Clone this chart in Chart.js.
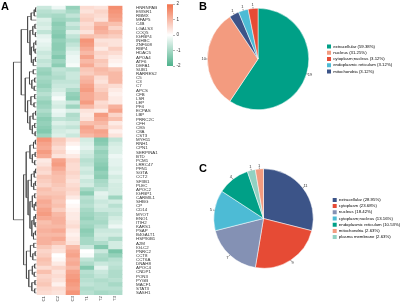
<!doctype html>
<html lang="en">
<head>
<meta charset="utf-8">
<title>Differential proteins: heatmap and subcellular localisation</title>
<script src="https://cdn.jsdelivr.net/npm/chart.js@4.4.1/dist/chart.umd.min.js"></script>
<style>
  html, body { margin: 0; padding: 0; background: #fff; overflow: hidden; }
  body { width: 400px; height: 302px; position: relative; }
  canvas { position: absolute; }
  .tag { position: absolute; font: bold 11px "Liberation Sans", Arial, sans-serif; color: #000; line-height: 11px; }
</style>
</head>
<body>
<canvas id="heat" width="166" height="302" style="left:0;top:0"></canvas>
<canvas id="key" width="24" height="72" style="left:164px;top:0"></canvas>
<canvas id="pieB" width="235" height="118" style="left:190px;top:0"></canvas>
<canvas id="pieC" width="235" height="118" style="left:190px;top:160px"></canvas>
<div class="tag" style="left:1px;top:1px">A</div>
<div class="tag" style="left:199px;top:1px">B</div>
<div class="tag" style="left:199px;top:163px">C</div>

<script>
// ---- heatmap data (row z-scores) ----
const ROWS = ["HNRNPAB","EWSR1","RBMX","MFAP5","C4B","LGALS3","COQ5","IGFBP4","INHBC","ZNF608",
  "RBP4","HDAC5","APOA4","ATF6","DEFA1","SUB1","RARRES2","C5","C3","C7",
  "APCS","CFB","LSR","LEP","PF4","ECPAS","LBP","PRRC2C","CFH","C8G",
  "C8A","CST3","MYH11","RNH1","CPN1","SERPINA1","BTD","PCM1","LRRC47","PFN1",
  "SGTA","CCT2","SF3B1","PLEC","APOC2","IGFBP1","CARMIL1","SHBG","CP","CD14",
  "MYOT","ENO1","ITIH2","KARS1","PSAP","B4GALT1","HSP90B1","A2M","IGLC2","PNRC2",
  "CCT8","CCT6A","DNAH8","APOC4","CNDP1","PON3","PYGB","MACF1","STAT3","SASH1"];
const COLS = ["C1","C2","C3","T1","T2","T3"];
const Z = [
  [-0.6,-0.2,-1.2, 0.5, 0.4, 1.6],
  [-0.8,-0.7,-1.0, 0.4, 0.6, 1.5],
  [-0.9,-1.0,-0.7, 0.6, 0.5, 1.4],
  [-0.4,-1.1,-1.0, 0.7, 0.4, 1.3],
  [-0.5,-1.3,-0.6, 0.5, 1.0, 0.9],
  [-0.4,-1.2,-0.8, 0.6, 1.2, 0.6],
  [-0.7,-1.3,-0.4, 0.4, 1.1, 0.9],
  [-0.3,-1.4,-0.7, 0.9, 0.8, 0.7],
  [-0.2,-1.2,-0.9, 1.5, 0.4, 0.4],
  [-0.3,-1.3,-0.7, 1.4, 0.5, 0.4],
  [-0.4,-1.3,-0.5, 1.2, 0.3, 0.7],
  [-0.6,-1.2,-0.3, 1.0, 0.6, 0.5],
  [-0.5,-1.4,-0.2, 1.3, 0.5, 0.3],
  [-0.7,-1.1,-0.2, 1.0, 0.8, 0.2],
  [-0.6,-1.3,-0.1, 1.2, 0.7, 0.1],
  [-1.1,-0.7,-0.8, 0.8, 1.0, 0.8],
  [-1.2,-0.8,-0.6, 0.7, 0.9, 1.0],
  [-1.0,-0.9,-0.6, 1.0, 0.5, 1.0],
  [-1.1,-0.7,-0.7, 1.1, 0.4, 1.0],
  [-1.2,-0.6,-0.6, 1.3, 0.6, 0.5],
  [-1.0,-0.5,-0.9, 1.4, 0.7, 0.3],
  [-0.8,-0.3,-1.2, 1.2, 0.9, 0.2],
  [-1.0,-0.1,-1.3, 1.2, 0.9, 0.3],
  [-1.2,-0.4,-0.6, 1.4, 0.5, 0.3],
  [-1.1,-0.5,-1.1, 1.0, 0.6, 1.1],
  [-0.9,-0.2,-0.4, 0.4, 0.3, 1.3],
  [-1.1,-0.3,-0.9, 0.3, 1.4, 0.6],
  [-1.3,-0.7,-0.8, 0.4, 1.2, 0.9],
  [-1.2,-0.4,-0.5, 0.9, 1.0, 0.3],
  [-1.3,-0.6,-0.7, 1.3, 0.8, 0.5],
  [-1.4,-0.5,-0.4, 1.2, 1.3, 0.2],
  [-1.1,-0.4,-0.6, 1.0, 1.2, 0.4],
  [ 1.5, 0.8, 0.4,-0.5,-1.4,-0.7],
  [ 1.3, 0.7, 0.2,-0.4,-1.3,-0.5],
  [ 1.2, 0.5, 0.0,-0.3,-1.0,-0.4],
  [ 1.4, 0.6, 0.1,-0.5,-1.2,-0.4],
  [ 1.2, 0.4, 0.3,-0.6,-1.1,-0.2],
  [ 0.3, 1.3, 0.6,-0.8,-1.2,-0.3],
  [ 0.4, 1.4, 0.5,-0.7,-1.3,-0.3],
  [ 0.6, 1.2, 0.5,-0.5,-1.4,-0.4],
  [ 0.5, 1.0, 0.6,-0.6,-1.2,-0.3],
  [ 0.8, 0.9, 0.5,-0.4,-1.3,-0.5],
  [ 0.7, 0.9, 0.4,-0.6,-1.0,-0.4],
  [ 0.6, 0.8, 0.5,-0.5,-0.9,-0.5],
  [ 0.9, 0.7, 0.6,-1.0,-0.7,-0.5],
  [ 0.8, 0.8, 0.5,-1.3,-0.3,-0.5],
  [ 1.0, 0.9, 0.3,-0.8,-0.4,-1.1],
  [ 1.2, 0.8, 0.0,-0.9,-0.6,-0.5],
  [ 1.1, 0.9, 0.1,-0.8,-0.5,-0.8],
  [ 1.3, 0.7, 0.2,-1.0,-0.6,-0.6],
  [ 1.4, 1.0, 0.3,-1.1,-0.9,-0.7],
  [ 1.2, 1.1, 0.3,-1.2,-0.9,-0.5],
  [ 0.9, 1.1, 0.4,-1.0,-1.0,-0.4],
  [ 1.0, 1.0, 0.5,-1.1,-0.8,-0.2],
  [ 1.1, 1.2, 0.3,-1.3,-0.6,-0.6],
  [ 1.0, 1.0, 0.2,-1.2,-0.5,-0.5],
  [ 1.1, 1.2, 0.3,-1.0,-0.6,-0.9],
  [ 1.1, 0.9, 0.4,-1.0,-0.9,-0.5],
  [ 0.8, 0.5, 1.0,-0.6,-1.4,-0.5],
  [ 0.6, 0.4, 1.2, 0.0,-0.6,-1.5],
  [ 0.7, 0.0, 1.3,-0.1,-0.9,-1.2],
  [ 0.9, 0.1, 1.1,-0.7,-1.0,-0.8],
  [ 0.8, 0.3, 1.2,-0.9,-0.6,-0.7],
  [ 0.5, 0.6, 1.0,-1.4,-0.3,-0.8],
  [ 0.9, 0.4, 1.3,-0.8,-0.6,-0.9],
  [ 0.6, 0.5, 1.4,-0.9,-0.7,-0.9],
  [ 0.7, 0.4, 1.5,-0.8,-0.9,-0.8],
  [ 0.8, 0.2, 1.4,-0.7,-0.8,-1.0],
  [ 0.6, 0.5, 1.3,-0.9,-0.8,-0.8],
  [ 0.5, 0.4, 1.5,-0.8,-1.0,-0.9]
];
// row dendrogram: [merge height (root = 1), left, right], leaves are row indices
const TREE = [1.0,
  [0.67,
    [0.40, [0.25, [0.12, [0.06, 0, 1], 2], 3],
           [0.30, [0.18, [0.09, 4, 5], [0.07, 6, 7]],
                  [0.24, [0.14, [0.05, 8, 9], [0.08, 10, 11]], [0.16, [0.07, 12, 13], 14]]]],
    [0.50, [0.32, [0.16, 15, 16], [0.22, [0.10, 17, 18], [0.12, 19, 20]]],
           [0.40, [0.26, [0.10, 21, 22], [0.13, 23, 24]],
                  [0.30, [0.17, [0.06, 25, 26], 27], [0.20, [0.10, 28, 29], [0.08, 30, 31]]]]]],
  [0.57,
    [0.46, [0.30, [0.15, [0.07, 32, 33], 34], [0.20, [0.08, 35, 36], [0.10, 37, 38]]],
           [0.38, [0.24, [0.12, [0.06, 39, 40], 41], [0.14, [0.07, 42, 43], 44]],
                  [0.30, [0.20, [0.10, 45, 46], [0.12, [0.05, 47, 48], 49]],
                         [0.22, [0.13, [0.06, 50, 51], [0.08, 52, 53]], [0.15, [0.07, 54, 55], 56]]]]],
    [0.45, [0.28, [0.14, 57, 58], [0.18, [0.08, 59, 60], 61]],
           [0.35, [0.20, [0.10, 62, 63], [0.12, 64, 65]], [0.22, [0.09, 66, 67], [0.10, 68, 69]]]]]
];
const KEY_TICKS = [-2, 2];

// ---- pie data ----
const B_LABELS = ["extracellular","nucleus","mitochondria","endoplasmic reticulum","cytoplasm;nucleus"];
const B_COUNTS = [19, 10, 1, 1, 1];
const B_PCT = ["59.38%","31.25%","3.12%","3.12%","3.12%"];
const B_COLORS = ["#00A087","#F39B7F","#3C5488","#4DBBD5","#E64B35"];
const B_ORDER = ["extracellular","nucleus","cytoplasm;nucleus","endoplasmic reticulum","mitochondria"];

const C_LABELS = ["extracellular","cytoplasm","nucleus","cytoplasm;nucleus","endoplasmic reticulum","plasma membrane","mitochondria"];
const C_COUNTS = [11, 9, 7, 5, 4, 1, 1];
const C_PCT = ["28.95%","23.68%","18.42%","13.16%","10.53%","2.63%","2.63%"];
const C_COLORS = ["#3C5488","#E64B35","#8491B4","#4DBBD5","#00A087","#91D1C2","#F39B7F"];
const C_ORDER = ["extracellular","cytoplasm","nucleus","cytoplasm;nucleus","endoplasmic reticulum","mitochondria","plasma membrane"];

const FONT = '"Liberation Sans", Arial, sans-serif';
Chart.defaults.font.family = FONT;
Chart.defaults.color = '#333';

const LOW = [78, 178, 140], HIGH = [241, 114, 76];
function zColor(v) {
  const t = Math.max(-1, Math.min(1, v / 2));
  const c = t < 0 ? LOW : HIGH, a = Math.abs(t);
  return 'rgb(' + c.map(k => Math.round(255 + (k - 255) * a)).join(',') + ')';
}

// dendrogram segments, broken with null points
const DEND_W = 1.66;
const dendPts = [];
function walk(n) {
  if (typeof n === 'number') return { y: n, h: -0.03 };
  const a = walk(n[1]), b = walk(n[2]), h = n[0];
  dendPts.push({ x: -Math.max(a.h, 0) * DEND_W - 0.03, y: a.y }, { x: -h * DEND_W, y: a.y },
               { x: -h * DEND_W, y: b.y }, { x: -Math.max(b.h, 0) * DEND_W - 0.03, y: b.y },
               { x: null, y: null });
  return { y: (a.y + b.y) / 2, h: h };
}
walk(TREE);

new Chart(document.getElementById('heat'), {
  type: 'bar',
  data: {
    labels: ROWS,
    datasets: COLS.map((c, j) => ({
      label: c,
      indexAxis: 'y',
      grouped: false,
      data: ROWS.map(() => [j, j + 1]),
      backgroundColor: Z.map(r => zColor(r[j])),
      barPercentage: 1,
      categoryPercentage: 1,
      borderWidth: 0,
      xAxisID: 'x',
      yAxisID: 'y'
    })).concat([{
      type: 'line',
      data: dendPts,
      xAxisID: 'x',
      yAxisID: 'y2',
      borderColor: '#3a3a3a',
      borderWidth: 0.6,
      pointRadius: 0,
      fill: false,
      spanGaps: false
    }])
  },
  options: {
    responsive: false,
    animation: false,
    layout: { padding: { left: 2, right: 3, top: 1, bottom: 0 } },
    plugins: { legend: { display: false }, tooltip: { enabled: false } },
    scales: {
      x: {
        type: 'linear', min: -1.7, max: 6,
        grid: { display: false, drawTicks: false }, border: { display: false },
        afterBuildTicks: s => { s.ticks = COLS.map((c, i) => ({ value: i + 0.5 })); },
        afterFit: s => { s.height = 7; },
        ticks: { autoSkip: false, minRotation: 90, maxRotation: 90, padding: 1,
                 font: { size: 4.4 }, color: '#444', callback: (v, i) => COLS[i] }
      },
      y: {
        type: 'category', position: 'right', offset: true,
        grid: { display: false, drawTicks: false }, border: { display: false },
        afterFit: s => { s.width = 30; },
        ticks: { autoSkip: false, padding: 3, font: { size: 4.4 }, color: '#333' }
      },
      y2: { type: 'linear', display: false, min: -0.5, max: 69.5, reverse: true }
    }
  }
});

// colour key
new Chart(document.getElementById('key'), {
  type: 'bar',
  data: {
    labels: [''],
    datasets: [{
      data: [KEY_TICKS],
      barPercentage: 1, categoryPercentage: 1, borderWidth: 0,
      backgroundColor: c => {
        const a = c.chart.chartArea;
        if (!a) return '#fff';
        const g = c.chart.ctx.createLinearGradient(0, a.bottom, 0, a.top);
        g.addColorStop(0, 'rgb(' + LOW.join(',') + ')');
        g.addColorStop(0.5, '#ffffff');
        g.addColorStop(1, 'rgb(' + HIGH.join(',') + ')');
        return g;
      }
    }]
  },
  options: {
    responsive: false,
    animation: false,
    layout: { padding: { left: 3, right: 0, top: 2.5, bottom: 6 } },
    plugins: { legend: { display: false }, tooltip: { enabled: false } },
    scales: {
      x: { display: false },
      y: {
        position: 'right', min: KEY_TICKS[0], max: KEY_TICKS[1],
        afterFit: s => { s.width = 15; },
        grid: { drawOnChartArea: false, tickLength: 2, color: '#666', lineWidth: 0.5 },
        border: { display: false },
        ticks: { stepSize: 1, padding: 1.5, font: { size: 4.5 }, color: '#333' }
      }
    }
  }
});

// count labels on the rim of each slice
const rimCounts = {
  id: 'rimCounts',
  afterDatasetsDraw(chart) {
    const ctx = chart.ctx;
    const meta = chart.getDatasetMeta(0);
    const vals = chart.data.datasets[0].data;
    ctx.save();
    ctx.font = '4px ' + FONT;
    ctx.fillStyle = '#333';
    ctx.strokeStyle = '#333';
    ctx.lineWidth = 0.5;
    ctx.textAlign = 'center';
    ctx.textBaseline = 'middle';
    meta.data.forEach((arc, i) => {
      const p = arc.getProps(['x', 'y', 'startAngle', 'endAngle', 'outerRadius']);
      const m = (p.startAngle + p.endAngle) / 2, cx = Math.cos(m), sy = Math.sin(m);
      ctx.beginPath();
      ctx.moveTo(p.x + cx * p.outerRadius, p.y + sy * p.outerRadius);
      ctx.lineTo(p.x + cx * (p.outerRadius + 1.5), p.y + sy * (p.outerRadius + 1.5));
      ctx.stroke();
      ctx.fillText(vals[i], p.x + cx * (p.outerRadius + 3.5), p.y + sy * (p.outerRadius + 3.5));
    });
    ctx.restore();
  }
};

const LEG_SIZE = 4.3, LEG_BOX = 4, LEG_PAD = 1.9;
const measure = document.createElement('canvas').getContext('2d');

// pie placed so that its legend starts at areaRight (canvas coords)
function pie(id, labels, counts, pct, colors, order, padL, padT, padB, areaRight) {
  const texts = order.map(name => name + ' (' + pct[labels.indexOf(name)] + ')');
  measure.font = LEG_SIZE + 'px ' + FONT;
  const textW = Math.max(...texts.map(t => measure.measureText(t).width));
  const legendW = LEG_PAD + LEG_BOX + LEG_SIZE / 2 + textW + 10;
  const canvas = document.getElementById(id);
  const padR = canvas.width - areaRight - legendW;
  return new Chart(canvas, {
    type: 'pie',
    data: {
      labels: labels,
      datasets: [{ data: counts, backgroundColor: colors, borderColor: '#ffffff', borderWidth: 0.5 }]
    },
    options: {
      responsive: false,
      animation: false,
      layout: { padding: { left: padL, right: padR, top: padT, bottom: padB } },
      plugins: {
        tooltip: { enabled: false },
        legend: {
          position: 'right',
          labels: {
            boxWidth: LEG_BOX, boxHeight: LEG_BOX, padding: LEG_PAD,
            font: { size: LEG_SIZE }, color: '#333',
            generateLabels: () => order.map((name, k) => {
              const i = labels.indexOf(name);
              return { text: texts[k], fillStyle: colors[i], strokeStyle: colors[i],
                       lineWidth: 0, hidden: false, index: i };
            })
          }
        }
      }
    },
    plugins: [rimCounts]
  });
}

pie('pieB', B_LABELS, B_COUNTS, B_PCT, B_COLORS, B_ORDER, 1, 8, 8, 135.1);
pie('pieC', C_LABELS, C_COUNTS, C_PCT, C_COLORS, C_ORDER, 6.2, 8.5, 9.5, 140.8);
</script>
</body>
</html>
